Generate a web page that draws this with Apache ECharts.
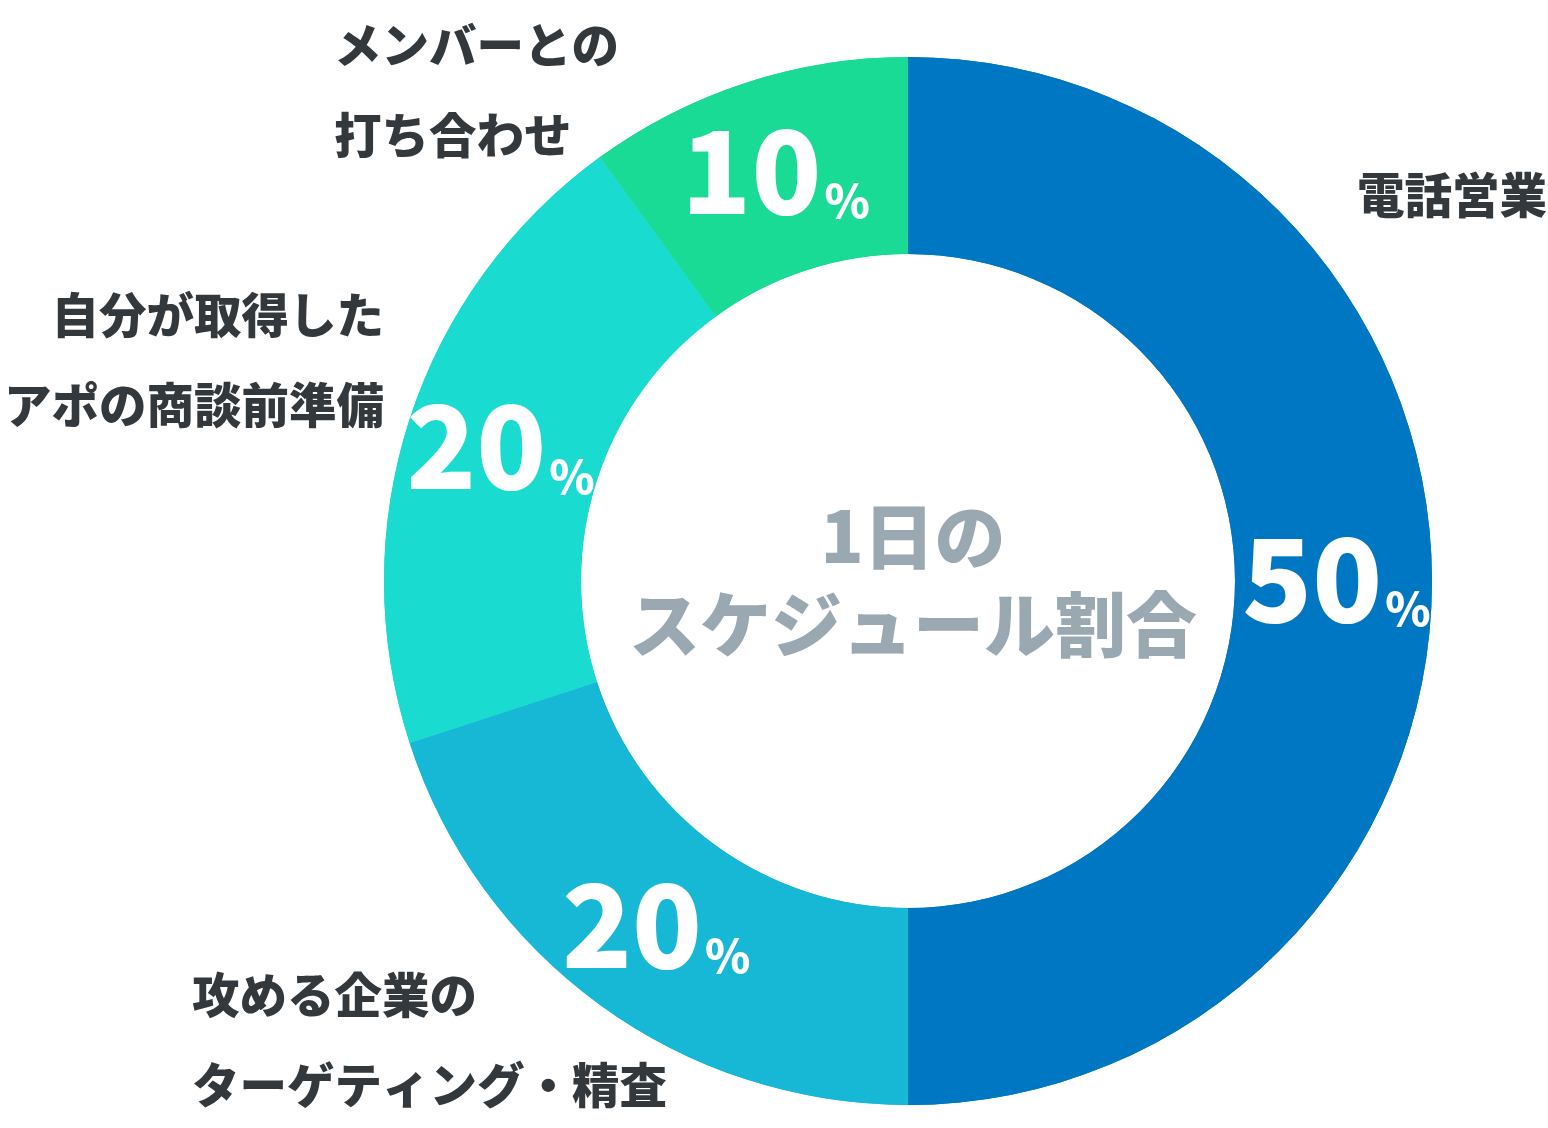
<!DOCTYPE html>
<html>
<head>
<meta charset="utf-8">
<script src="https://cdn.jsdelivr.net/npm/echarts@6/dist/echarts.min.js"></script>
<style>
  html, body { margin: 0; padding: 0; background: #fff; }
  #chart { width: 1548px; height: 1128px; }
</style>
</head>
<body>
<div id="chart"></div>
<script>
// データ
var categories = ['電話営業', '攻める企業の\nターゲティング・精査', '自分が取得した\nアポの商談前準備', 'メンバーとの\n打ち合わせ'];
var shares = [50, 20, 20, 10];
var colors = ['#0077c2', '#17b8d5', '#19dbd0', '#1adb96'];
var centerTitle = '1日の\nスケジュール割合';

// 外側ラベルの置き場所 (x, y, 揃え)
var namePos = [
  { x: 1547, y: 195, align: 'right' },
  { x: 192, y: 1040, align: 'left' },
  { x: 384, y: 360, align: 'right' },
  { x: 334, y: 90, align: 'left' }
];

var font = '"Noto Sans CJK JP", "Noto Sans", sans-serif';
var cx = 908, cy = 581;

var pieData = categories.map(function (c, i) {
  return { name: c, value: shares[i], itemStyle: { color: colors[i] } };
});

var chart = echarts.init(document.getElementById('chart'));
chart.setOption({
  animation: false,
  title: {
    text: centerTitle,
    left: cx,
    top: cy - 6,
    textAlign: 'center',
    textVerticalAlign: 'middle',
    textStyle: {
      fontFamily: font,
      fontWeight: 900,
      fontSize: 71,
      lineHeight: 88,
      color: '#9aa8b2'
    }
  },
  series: [
    {
      type: 'pie',
      center: [cx, cy],
      radius: [327, 524],
      startAngle: 90,
      clockwise: true,
      silent: true,
      data: pieData,
      label: {
        position: 'inside',
        formatter: function (p) { return '{v|' + p.value + '}{p|%}'; },
        padding: [0, 0, 6, 0],
        rich: {
          v: {
            fontFamily: font, fontWeight: 900, fontSize: 115,
            lineHeight: 115, color: '#fff', verticalAlign: 'bottom'
          },
          p: {
            fontFamily: font, fontWeight: 900, fontSize: 46,
            lineHeight: 46, color: '#fff', verticalAlign: 'bottom',
            padding: [0, 0, 4, 3]
          }
        }
      },
      labelLine: { show: false }
    },
    {
      type: 'pie',
      center: [cx, cy],
      radius: [327, 524],
      startAngle: 90,
      silent: true,
      data: pieData,
      itemStyle: { color: 'rgba(0,0,0,0)' },
      label: {
        position: 'outside',
        formatter: '{b}',
        overflow: 'none',
        fontFamily: font,
        fontWeight: 900,
        fontSize: 47.5,
        lineHeight: 90,
        color: '#33383c'
      },
      labelLine: { show: false },
      labelLayout: function (p) {
        var pos = namePos[p.dataIndex];
        return { x: pos.x, y: pos.y, align: pos.align, verticalAlign: 'middle' };
      }
    }
  ]
});
</script>
</body>
</html>
